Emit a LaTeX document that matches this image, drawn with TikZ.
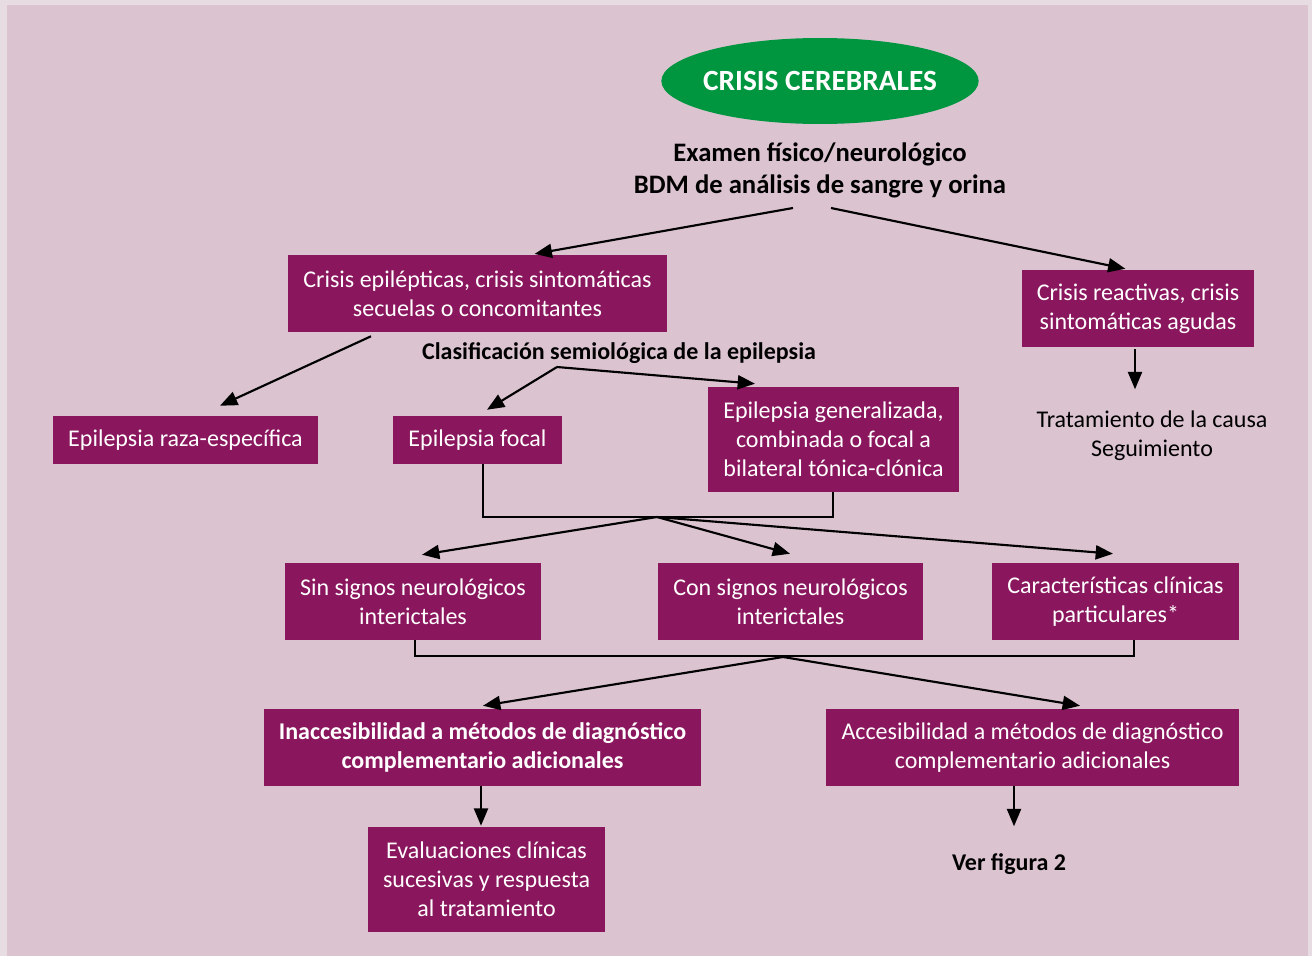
\documentclass[tikz,border=0pt]{standalone}
\usepackage{fontspec}
\setmainfont{Carlito}
\usetikzlibrary{calc,arrows.meta,shapes.geometric}
\definecolor{plum}{RGB}{138,22,94}
\definecolor{bgin}{RGB}{219,195,208}
\definecolor{bgout}{RGB}{232,220,227}
\definecolor{leaf}{RGB}{0,150,64}
\newcommand{\boxfont}{\fontsize{18}{21.75}\selectfont}
\begin{document}
\begin{tikzpicture}[x=0.75pt,y=-0.75pt,
  box/.style={fill=plum,text=white,align=center,inner sep=0pt,font=\boxfont},
  note/.style={align=center,inner sep=0pt,font=\boxfont},
  arr/.style={line width=1.6pt,-{Triangle[length=13pt,width=10.5pt]}},
  ln/.style={line width=1.6pt}]
% background panel
\fill[bgout] (0,0) rectangle (1312,956);
\fill[bgin] (7,5) rectangle (1308,956);
\useasboundingbox (0,0) rectangle (1312,956);

% title and first step
\node[ellipse,fill=leaf,text=white,minimum width=237.75pt,minimum height=64.5pt,
  inner xsep=-3.5pt,inner ysep=0pt,
  font=\fontsize{22}{26}\selectfont\bfseries] (title) at (820,81) {CRISIS CEREBRALES};
\node[note,font=\fontsize{20}{24}\selectfont\bfseries] (exam) at (820,170)
  {Examen físico/neurológico\\BDM de análisis de sangre y orina};
\coordinate (ex1) at (793,208);
\coordinate (ex2) at (831,208);

% second level
\node[box,minimum width=284.25pt,minimum height=57.75pt] (epi) at (477.5,293.5)
  {Crisis epilépticas, crisis sintomáticas\\secuelas o concomitantes};
\node[box,minimum width=174pt,minimum height=57.75pt] (reac) at (1138,308.5)
  {Crisis reactivas, crisis\\sintomáticas agudas};
\node[note] (trat) at (1152,435.5) {Tratamiento de la causa\\Seguimiento};
\node[note,font=\boxfont\bfseries] (clas) at (619,353) {Clasificación semiológica de la epilepsia};
\coordinate (cl) at (557,367);

% epilepsy types
\node[box,minimum width=198.75pt,minimum height=36pt] (raza) at (185.5,440) {Epilepsia raza-específica};
\node[box,minimum width=126.75pt,minimum height=36pt] (focal) at (477.5,440) {Epilepsia focal};
\node[box,minimum width=188.25pt,minimum height=78.75pt] (gen) at (833.5,439.5)
  {Epilepsia generalizada,\\combinada o focal a\\bilateral tónica-clónica};

% interictal signs
\node[box,minimum width=192pt,minimum height=57.75pt] (sin) at (413,601.5)
  {Sin signos neurológicos\\interictales};
\node[box,minimum width=198.75pt,minimum height=57.75pt] (con) at (790.5,601.5)
  {Con signos neurológicos\\interictales};
\node[box,minimum width=185.25pt,minimum height=57.75pt] (car) at (1115.5,601.5)
  {Características clínicas\\particulares*};

% access to diagnostics
\node[box,font=\boxfont\bfseries,minimum width=327.75pt,minimum height=57.75pt] (inac) at (482.5,747.5)
  {Inaccesibilidad a métodos de diagnóstico\\complementario adicionales};
\node[box,minimum width=309.75pt,minimum height=57.75pt] (acc) at (1032.5,747.5)
  {Accesibilidad a métodos de diagnóstico\\complementario adicionales};
\node[box,minimum width=177.75pt,minimum height=78.75pt] (eval) at (486.5,879.5)
  {Evaluaciones clínicas\\sucesivas y respuesta\\al tratamiento};
\node[note,font=\boxfont\bfseries] (ver) at (1009,864) {Ver figura 2};

% connectors
\draw[arr,shorten >=3.5pt] (ex1) -- ($(epi.north)+(52.5,0)$);
\draw[arr,shorten >=3.5pt] (ex2) -- ($(reac.north)+(-8,0)$);
\draw[arr] ($(reac.south)+(-3,2)$) -- ($(reac.south)+(-3,42)$);
\draw[arr] ($(epi.south)+(-106.5,4)$) -- ($(raza.north)+(34.5,-10)$);
\draw[arr] (cl) -- ($(focal.north)+(9.5,-6)$);
\draw[arr] (cl) -- ($(gen.north)+(-78.5,-3)$);

% joining the two epilepsy types
\draw[ln] ($(focal.south)+(5.5,0)$) |- ($(gen.south)+(-0.5,25)$) -- ($(gen.south)+(-0.5,0)$);
\coordinate (j1) at (657,517);
\draw[arr] (j1) -- ($(sin.north)+(9,-8)$);
\draw[arr] (j1) -- ($(con.north)+(-0.5,-9)$);
\draw[arr] (j1) -- ($(car.north)+(-2.5,-9)$);

% joining the interictal groups
\draw[ln] ($(sin.south)+(2,0)$) |- ($(car.south)+(18.5,16)$) -- ($(car.south)+(18.5,0)$);
\coordinate (j2) at (783,657);
\draw[arr] (j2) -- ($(inac.north)+(0.5,-3)$);
\draw[arr] (j2) -- ($(acc.north)+(47.5,-3)$);

\draw[arr,shorten >=0.75pt] ($(inac.south)+(-1.5,0)$) -- ($(eval.north)+(-5.5,0)$);
\draw[arr] ($(acc.south)+(-18.5,0)$) -- ($(acc.south)+(-18.5,40)$);
\end{tikzpicture}
\end{document}
